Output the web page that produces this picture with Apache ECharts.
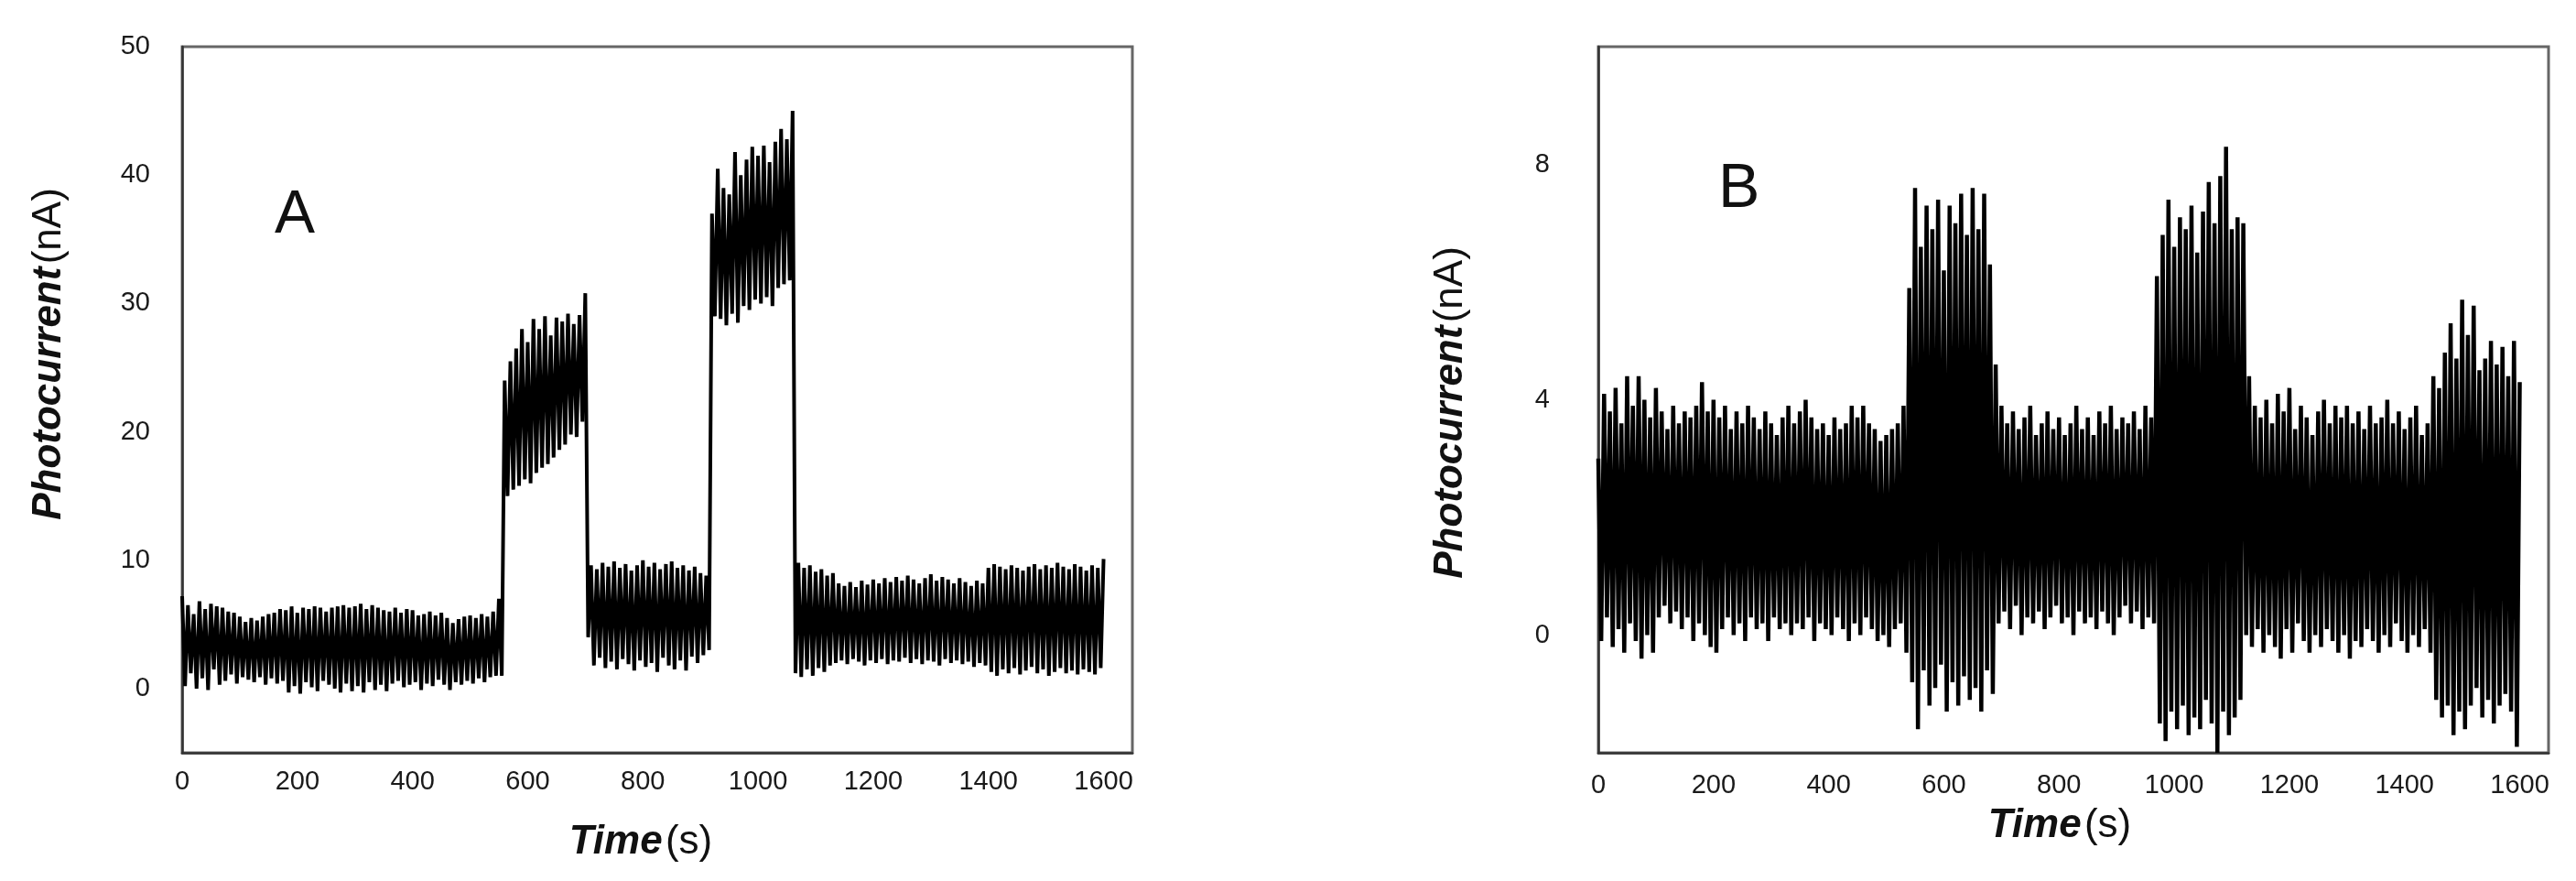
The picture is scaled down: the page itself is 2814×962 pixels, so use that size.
<!DOCTYPE html>
<html>
<head>
<meta charset="utf-8">
<script src="https://cdn.jsdelivr.net/npm/echarts@6/dist/echarts.min.js"></script>
<style>
html,body{margin:0;padding:0;background:#fff;}
#chart{width:2814px;height:962px;}
</style>
</head>
<body>
<div id="chart"></div>
<script>
// ---------- DATA ----------
// peaks at t = 0,10,20,...,1600 s ; troughs at t = 5,15,...,1595 s
const timeStep = 10;          // s between successive peaks
const panelLabels = ['A', 'B'];
const xTickLabels = [0, 200, 400, 600, 800, 1000, 1200, 1400, 1600];
const yTickLabelsA = [0, 10, 20, 30, 40, 50];
const yTickLabelsB = [0, 4, 8];

const peaksA = [
  7.2, 6.5, 5.8, 6.8, 6.2, 6.6, 6.4, 6.3, 6.0, 5.9,
  5.6, 5.2, 5.5, 5.3, 5.6, 5.8, 5.9, 6.2, 6.1, 6.4,
  5.9, 6.3, 6.2, 6.4, 6.3, 6.0, 6.3, 6.4, 6.5, 6.3,
  6.4, 6.6, 6.2, 6.5, 6.3, 6.1, 6.0, 6.3, 5.9, 6.2,
  6.1, 5.7, 5.8, 6.0, 5.7, 5.9, 5.5, 5.1, 5.4, 5.6,
  5.7, 5.5, 5.8, 5.6, 6.0, 7.0,
  24.0, 25.5, 26.5, 28.0, 27.0, 28.8, 28.0, 29.0, 27.5, 28.9, 28.6, 29.2, 28.4, 29.1, 30.8,
  9.6, 9.3, 9.8, 9.5, 9.9, 9.4, 9.7, 9.2, 9.6, 10.0,
  9.5, 9.8, 9.3, 9.7, 9.9, 9.4, 9.6, 9.2, 9.5, 9.0,
  8.8,
  37.0, 40.5, 39.0, 38.5, 41.8, 40.0, 41.2, 42.2, 41.5, 42.3, 41.0, 42.6, 43.6, 42.8, 45.0,
  9.8, 9.4, 9.6, 9.1, 9.3, 8.8, 9.0,
  8.2, 8.0, 8.3, 7.9, 8.4, 8.1, 8.5, 8.2, 8.6, 8.3,
  8.7, 8.4, 8.8, 8.5, 8.2, 8.6, 8.9, 8.4, 8.7, 8.5,
  8.2, 8.6, 8.3, 8.0, 8.4, 8.2,
  9.4, 9.7, 9.5, 9.3, 9.6, 9.4, 9.2, 9.5, 9.7, 9.3,
  9.6, 9.4, 9.8, 9.5, 9.3, 9.7, 9.5, 9.2, 9.6, 9.4,
  10.1
];
const troughsA = [
  0.2, 1.2, 0.0, 0.8, -0.1, 1.5, 0.3, 0.6, 1.1, 0.4,
  0.9, 0.7, 0.5, 0.9, 0.3, 0.8, 0.4, 0.6, -0.3, 0.2,
  -0.4, 0.5, 0.1, -0.2, 0.6, 0.3, 0.0, -0.3, 0.4, -0.2,
  0.2, -0.3, 0.5, -0.1, 0.3, -0.2, 0.4, 0.6, 0.1, 0.3,
  0.5, -0.1, 0.4, 0.2, 0.7, 0.3, -0.1, 0.5, 0.3, 0.6,
  0.4, 0.8, 0.5, 0.9, 1.0, 1.0,
  15.0, 15.5, 15.8, 16.3, 16.0, 16.8, 17.2, 17.5, 18.0, 18.6, 19.0, 19.8, 19.6, 20.8,
  4.0, 1.8, 2.4, 1.6, 2.1, 1.5, 2.3, 1.9, 1.4, 2.2,
  1.7, 2.0, 1.3, 2.4, 1.8, 1.5, 2.2, 1.4, 2.5, 2.0,
  2.6, 3.0,
  29.0, 28.8, 28.3, 29.2, 28.5, 29.8, 29.5, 30.3, 30.0, 30.5, 29.8, 31.2, 31.5, 31.8,
  1.2, 0.9, 1.5, 1.0, 1.6, 1.3, 1.8,
  2.0, 2.2, 1.9, 2.3, 2.1, 1.8, 2.2, 2.0, 2.3, 1.9,
  2.2, 2.1, 2.4, 2.0, 2.3, 1.9, 2.2, 2.1, 1.8, 2.3,
  2.0, 2.2, 1.9, 2.1, 1.7, 2.0, 1.8,
  1.3, 1.0, 1.5, 1.2, 1.6, 1.1, 1.4, 1.7, 1.2, 1.5,
  1.0, 1.3, 1.6, 1.2, 1.4, 1.1, 1.5, 1.3, 1.1, 1.6
];

const peaksB = [
  3.0, 4.1, 3.8, 4.2, 3.6, 4.4, 3.9, 4.4, 4.0, 3.7,
  4.2, 3.8, 3.5, 3.9, 3.6, 3.8, 3.7, 3.9, 4.3, 3.8,
  4.0, 3.7, 3.9, 3.5, 3.8, 3.6, 3.9, 3.7, 3.5, 3.8,
  3.6, 3.4, 3.7, 3.9, 3.6, 3.8, 4.0, 3.7, 3.5, 3.6,
  3.4, 3.7, 3.5, 3.6, 3.9, 3.7, 3.9, 3.6, 3.5, 3.3,
  3.4, 3.5, 3.6, 3.9,
  5.9, 7.6, 6.6, 7.3, 6.9, 7.4, 6.2, 7.3, 7.0, 7.5, 6.8, 7.6, 6.9, 7.5, 6.3,
  4.6, 3.9, 3.6, 3.8, 3.5, 3.7, 3.9, 3.4, 3.6, 3.8,
  3.5, 3.7, 3.4, 3.6, 3.9, 3.5, 3.7, 3.4, 3.8, 3.6,
  3.9, 3.5, 3.7, 3.6, 3.8, 3.5, 3.9, 3.7, 6.1,
  6.8, 7.4, 6.6, 7.1, 6.9, 7.3, 6.5, 7.2, 7.7, 7.0, 7.8, 8.3, 6.9, 7.1, 7.0,
  4.4, 3.9, 3.7, 4.0, 3.6, 4.1, 3.8, 4.2, 3.5, 3.9,
  3.7, 3.4, 3.8, 4.0, 3.6, 3.9, 3.7, 3.9, 3.6, 3.8,
  3.5, 3.9, 3.6, 3.7, 4.0, 3.6, 3.8, 3.5, 3.7, 3.9,
  3.4, 3.6,
  4.4, 4.2, 4.8, 5.3, 4.7, 5.7, 5.1, 5.6, 4.5, 4.7, 5.0, 4.6, 4.9, 4.4, 5.0, 4.3
];
const troughsB = [
  -0.1, 0.3, -0.2, 0.1, -0.3, 0.2, -0.1, -0.4, 0.0, -0.3,
  0.3, 0.5, 0.2, 0.4, 0.1, 0.3, -0.1, 0.2, 0.0, -0.2,
  -0.3, 0.1, 0.3, 0.0, 0.2, -0.1, 0.3, 0.1, 0.2, -0.1,
  0.3, 0.1, 0.2, 0.0, 0.2, 0.1, 0.3, -0.1, 0.2, 0.1,
  0.0, 0.3, 0.1, -0.1, 0.2, 0.0, 0.3, 0.1, -0.1, 0.0,
  -0.2, 0.1, 0.2, -0.3,
  -0.8, -1.6, -0.6, -1.2, -0.9, -0.5, -1.3, -0.8, -1.2, -0.7, -1.1, -0.9, -1.3, -0.6, -1.0,
  0.2, 0.4, 0.1, 0.5, 0.0, 0.3, 0.2, 0.4, 0.1, 0.3,
  0.5, 0.2, 0.3, 0.0, 0.4, 0.2, 0.3, 0.1, 0.4, 0.2,
  0.0, 0.3, 0.5, 0.2, 0.4, 0.1, 0.3, 0.2,
  -1.5, -1.8, -1.3, -1.6, -1.2, -1.7, -1.4, -1.6, -1.1, -1.5, -2.0, -1.3, -1.7, -1.4, -1.1,
  0.0, -0.2, 0.1, -0.3, 0.0, -0.2, -0.4, 0.1, -0.3, 0.2,
  -0.1, -0.3, 0.0, -0.2, 0.1, -0.1, -0.3, 0.0, -0.4, -0.1,
  -0.2, 0.1, -0.1, -0.3, 0.0, -0.2, 0.2, -0.1, -0.3, 0.0,
  -0.2, 0.1, -0.3,
  -1.1, -1.4, -1.2, -1.7, -1.3, -1.6, -1.2, -0.9, -1.4, -1.1, -1.5, -1.2, -1.0, -1.3, -1.9
];

// ---------- build series from the arrays ----------
function interleave(peaks, troughs) {
  const out = [];
  for (let i = 0; i < peaks.length; i++) {
    out.push([i * timeStep, peaks[i]]);
    if (i < troughs.length) out.push([i * timeStep + timeStep / 2, troughs[i]]);
  }
  return out;
}
const dataA = interleave(peaksA, troughsA);
const dataB = interleave(peaksB, troughsB);

const FONT = "'Liberation Sans', Arial, Helvetica, sans-serif";
const titleRich = {
  b: { fontFamily: FONT, fontSize: 44, fontWeight: 'bold', fontStyle: 'italic', color: '#111' },
  n: { fontFamily: FONT, fontSize: 44, fontWeight: 'normal', color: '#111' }
};

function xAxisCfg(idx, nameGap, padRight, labelMargin) {
  return {
    type: 'value', gridIndex: idx, min: 0, max: 1650, interval: 200,
    name: '{b|Time} {n|(s)}', nameLocation: 'middle', nameGap: nameGap,
    nameTextStyle: { rich: titleRich, padding: [0, padRight, 0, 0] },
    axisLine: { show: true, onZero: false, lineStyle: { color: '#333', width: 2.5 } },
    axisTick: { show: false }, splitLine: { show: false },
    axisLabel: {
      margin: labelMargin, fontFamily: FONT, fontSize: 29, color: '#1a1a1a',
      formatter: v => xTickLabels.indexOf(v) >= 0 ? String(v) : ''
    }
  };
}
function yAxisCfg(idx, min, max, interval, labels, nameGap, pad, labelMargin) {
  return {
    type: 'value', gridIndex: idx, min: min, max: max, interval: interval,
    name: '{b|Photocurrent} {n|(nA)}', nameLocation: 'middle', nameGap: nameGap,
    nameTextStyle: { rich: titleRich, padding: pad },
    axisLine: { show: true, onZero: false, lineStyle: { color: '#333', width: 2.5 } },
    axisTick: { show: false }, splitLine: { show: false },
    axisLabel: {
      margin: labelMargin, fontFamily: FONT, fontSize: 29, color: '#1a1a1a',
      formatter: v => labels.indexOf(v) >= 0 ? String(v) : ''
    }
  };
}

const chart = echarts.init(document.getElementById('chart'), null, { renderer: 'canvas' });
chart.setOption({
  animation: false,
  backgroundColor: '#fff',
  title: [
    { text: panelLabels[0], left: 295, top: 198,
      textStyle: { fontFamily: FONT, fontSize: 66, fontWeight: 'normal', color: '#111' } },
    { text: panelLabels[1], left: 1872, top: 168,
      textStyle: { fontFamily: FONT, fontSize: 68, fontWeight: 'normal', color: '#111' } }
  ],
  grid: [
    { left: 199, top: 51, width: 1038, height: 771, show: true, borderColor: '#666', borderWidth: 3, backgroundColor: 'transparent' },
    { left: 1746, top: 51, width: 1038, height: 771, show: true, borderColor: '#666', borderWidth: 3, backgroundColor: 'transparent' }
  ],
  xAxis: [
    xAxisCfg(0, 76, 36, 17),
    xAxisCfg(1, 58, 30, 21)
  ],
  yAxis: [
    yAxisCfg(0, -5, 50, 5, yTickLabelsA, 123, [0, 0, 0, 100], 35),
    yAxisCfg(1, -2, 10, 2, yTickLabelsB, 139, [0, 28, 0, 0], 53)
  ],
  series: [
    { type: 'line', xAxisIndex: 0, yAxisIndex: 0, data: dataA, showSymbol: false,
      lineStyle: { color: '#000', width: 4, join: 'miter', miterLimit: 2 }, silent: true },
    { type: 'line', xAxisIndex: 1, yAxisIndex: 1, data: dataB, showSymbol: false,
      lineStyle: { color: '#000', width: 4.5, join: 'miter', miterLimit: 2 }, silent: true }
  ]
});
</script>
</body>
</html>
